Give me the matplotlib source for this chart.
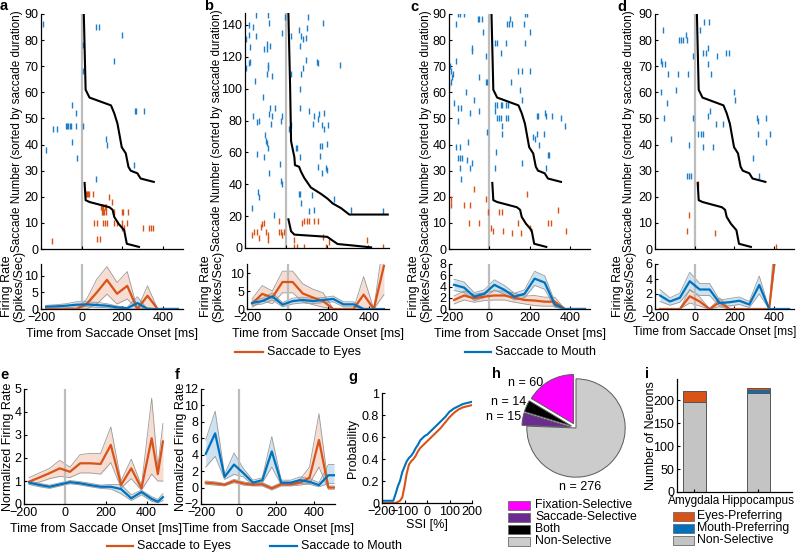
import numpy as np
import matplotlib
matplotlib.use('Agg')
import matplotlib.pyplot as plt
from matplotlib.lines import Line2D
from matplotlib.patches import Rectangle

plt.rcParams['font.family'] = ['Liberation Sans', 'DejaVu Sans']
plt.rcParams['font.size'] = 9
plt.rcParams['axes.linewidth'] = 0.9

W, H = 799, 552
fig = plt.figure(figsize=(W / 100, H / 100), dpi=100)

ORANGE = '#D95319'
BLUE = '#0072BD'
GRAY = '#BDBDBD'
BANDEDGE = '#9A9A9A'
FS = 9

# ---------------- raster data (time ms, saccade number) ----------------
a_mouth_spikes = [(-192, 86), (71, 85), (88, 85), (200, 82), (5, 78), (160, 72), (8, 68), (-45, 55),
                  (-26, 52), (263, 53), (268, 53), (307, 53), (-140, 46), (-122, 46), (-78, 47), (-73, 47),
                  (-68, 47), (-59, 47), (-54, 47), (-29, 47), (5, 47), (-45, 41), (122, 42), (127, 40),
                  (-175, 38), (-23, 35), (258, 32), (71, 27)]
a_eyes_spikes = [(15, 21), (20, 21), (25, 21), (30, 21), (35, 21), (58, 21), (137, 20), (151, 18), (98, 16),
                 (103, 16), (108, 16), (117, 16), (122, 16), (100, 14), (105, 14), (112, 14), (122, 14),
                 (161, 14), (200, 14), (205, 14), (229, 14), (63, 10), (78, 10), (107, 10), (117, 10),
                 (127, 10), (161, 10), (176, 10), (200, 10), (224, 10), (200, 8), (210, 8), (302, 8),
                 (332, 8), (341, 8), (351, 8), (78, 4), (93, 4), (-146, 3)]

b_mouth_spikes = [(-148, 146), (-88, 146), (-81, 141), (-182, 140), (-163, 139), (-179, 134), (-148, 133),
                  (-4, 145), (-20, 135), (24, 133), (104, 145), (101, 138), (177, 141), (63, 137), (72, 133),
                  (80, 131), (96, 132), (-196, 131), (-196, 113), (-175, 126), (-91, 128), (-95, 125),
                  (-78, 127), (-107, 125), (67, 127), (-175, 117), (-179, 116), (96, 118), (150, 117),
                  (153, 116), (262, 115), (-87, 115), (-87, 113), (-93, 109), (-71, 108), (24, 109),
                  (80, 113), (72, 109), (-153, 105), (67, 100), (-112, 95), (-159, 83), (-78, 88), (-56, 88),
                  (-83, 84), (-71, 83), (-20, 83), (-143, 79), (-131, 80), (-74, 78), (-104, 71), (-99, 67),
                  (-91, 66), (-90, 63), (-25, 80), (24, 77), (109, 86), (136, 83), (161, 84), (182, 85),
                  (156, 81), (172, 77), (205, 77), (132, 78), (185, 75), (67, 88), (13, 75), (-107, 57),
                  (-142, 59), (-82, 47), (-30, 53), (47, 63), (55, 63), (67, 57), (167, 64), (175, 64),
                  (199, 65), (166, 58), (156, 51), (193, 50), (201, 49), (174, 47), (-27, 42), (-22, 40),
                  (-135, 35), (-134, 32), (-168, 25), (-61, 21), (63, 34), (67, 34), (128, 33), (72, 28),
                  (109, 23), (136, 24), (234, 31), (315, 24), (470, 23)]
b_eyes_spikes = [(-165, 8), (-156, 10), (-140, 10), (-124, 13), (-115, 15), (-99, 10), (-87, 8), (-110, 16),
                 (-132, 6), (-87, 5), (-35, 17), (-24, 10), (-20, 8), (-8, 10), (-33, 10), (77, 16), (88, 17),
                 (101, 17), (112, 17), (134, 17), (153, 17), (36, 5), (177, 7), (209, 4), (391, 5),
                 (39, 0.8), (52, 0.8), (88, 0.8), (193, 0.8), (470, 0.8)]

c_mouth_spikes = [(-155, 90), (-146, 90), (-127, 90), (-57, 88), (-49, 88), (-37, 88), (-163, 86), (101, 88),
                  (179, 90), (187, 90), (89, 86), (98, 86), (114, 86), (174, 86), (203, 83), (-33, 83),
                  (-88, 76), (-84, 77), (30, 79), (36, 79), (82, 79), (179, 79), (57, 75), (-16, 74),
                  (-163, 72), (143, 68), (160, 68), (203, 68), (-49, 66), (106, 64), (-195, 70), (-190, 68),
                  (-185, 66), (-180, 67), (-188, 64), (-18, 64), (-10, 64), (-198, 63), (150, 61), (-114, 60),
                  (163, 57), (-176, 56), (-155, 54), (-138, 54), (-75, 57), (-53, 53), (-98, 52), (30, 55),
                  (36, 55), (57, 55), (62, 55), (82, 55), (95, 55), (30, 53), (36, 50), (46, 50), (57, 50),
                  (85, 50), (93, 50), (-155, 49), (62, 47), (-10, 45), (62, 44), (235, 51), (243, 51),
                  (282, 51), (312, 51), (358, 50), (275, 52), (374, 47), (235, 44), (272, 44), (219, 43),
                  (227, 42), (247, 40), (-107, 41), (-163, 39), (-143, 39), (-155, 35), (-146, 35),
                  (-133, 35), (-111, 34), (-85, 33), (-143, 31), (-98, 31), (-138, 27), (33, 37), (30, 31),
                  (160, 33), (290, 36), (297, 36), (280, 31)]
c_eyes_spikes = [(-190, 19), (-190, 17), (-76, 23), (-125, 17), (-96, 17), (-18, 19), (-7, 14), (46, 14),
                 (62, 14), (187, 21), (341, 15), (-102, 10), (-49, 10), (8, 8), (20, 7), (66, 7), (114, 6),
                 (155, 6), (143, 10), (203, 8), (290, 10), (306, 10), (382, 7)]

d_mouth_spikes = [(-158, 84), (49, 87), (70, 87), (25, 84), (-80, 80), (-69, 80), (-57, 80), (-44, 82),
                  (-37, 80), (-170, 72), (-166, 71), (-151, 71), (-11, 74), (41, 75), (57, 75), (65, 77),
                  (65, 71), (114, 74), (158, 75), (171, 75), (-135, 67), (-84, 67), (-32, 67), (81, 67),
                  (-93, 61), (-171, 60), (-138, 56), (198, 60), (203, 57), (76, 53), (-154, 50), (-8, 50),
                  (65, 51), (106, 48), (143, 48), (313, 50), (320, 49), (358, 50), (317, 44), (378, 44),
                  (358, 41), (17, 44), (33, 44), (41, 44), (44, 39), (93, 39), (-119, 42), (-27, 40),
                  (293, 35), (-37, 28), (-31, 28), (-21, 28), (325, 28)]
d_eyes_spikes = [(17, 25), (-27, 13), (-37, 7), (102, 6), (407, 0.8)]

# saccade-duration curves (duration ms, saccade number)
acd_dur_mouth_t = [11, 20, 39, 145, 161, 177, 198, 218, 231, 242, 275, 291, 356]
acd_dur_mouth_y = [90, 61, 58, 55, 52, 48, 39, 36.6, 31.5, 30, 29, 27, 25.7]
acd_dur_eyes_t = [15, 20, 39, 137, 153, 161, 182, 210, 223, 283]
acd_dur_eyes_y = [25.3, 18.7, 18, 16, 15, 12.3, 9.7, 7.2, 2, 0.8]
b_dur_mouth_t = [11, 19, 24, 40, 43, 63, 72, 88, 120, 169, 201, 226, 267, 307, 494]
b_dur_mouth_y = [147, 103, 67, 57, 52, 51, 48, 44, 38, 34, 31, 28, 25, 21, 21]
b_dur_eyes_t = [11, 24, 40, 169, 200, 250, 330, 413]
b_dur_eyes_y = [18, 10.5, 8.4, 7.3, 7, 2.5, 1.5, 0.4]

# ---------------- firing rates ----------------
fr_t = [-175, -125, -75, -25, 25, 75, 125, 175, 225, 275, 325, 375, 425, 475]
a_eyes = [0, 0, 0, 0, 1.5, 5.0, 8.8, 4.6, 7.0, 0, 4.0, 0, 0, 0]
a_eyes_lo = [0, 0, 0, 0, 0, 1.5, 4.5, 1.5, 3.0, 0, 0.5, 0, 0, 0]
a_eyes_hi = [0, 0, 0, 0, 3.0, 9.0, 12.8, 8.0, 11.3, 0, 7.0, 0, 0, 0]
a_mouth = [0.7, 0.8, 1.0, 1.3, 1.4, 1.2, 1.0, 0.5, 0.2, 1.8, 0, 0, 0, 0]
a_mouth_lo = [0.3, 0.3, 0.4, 0.6, 0.7, 0.5, 0.4, 0.1, 0, 0, 0, 0, 0, 0]
a_mouth_hi = [1.1, 1.3, 1.6, 2.2, 2.2, 2.0, 1.6, 0.9, 0.5, 3.7, 0, 0, 0, 0]

b_eyes = [1.5, 4.2, 3.2, 7.5, 7.5, 4.3, 3.2, 2.2, 0, 0, 0, 4.0, 0, 12]
b_eyes_lo = [0.5, 2.2, 1.5, 4.5, 4.5, 2.0, 1.2, 0.5, 0, 0, 0, 0, 0, 4.0]
b_eyes_hi = [2.8, 6.5, 5.0, 10.5, 10.5, 7.0, 5.5, 4.5, 0, 0, 0, 9.0, 0, 20]
b_mouth = [1.7, 2.2, 3.5, 1.2, 2.2, 2.5, 2.2, 2.5, 2.8, 1.3, 1.3, 0, 0, 0]
b_mouth_lo = [1.0, 1.4, 2.5, 0.6, 1.4, 1.7, 1.5, 1.8, 2.0, 0.6, 0.6, 0, 0, 0]
b_mouth_hi = [2.4, 3.0, 4.5, 1.8, 3.0, 3.3, 2.9, 3.2, 3.6, 2.0, 2.0, 0, 0, 0]

c_eyes = [1.6, 2.4, 1.9, 2.2, 2.4, 2.4, 2.0, 1.6, 1.5, 1.3, 1.3, 0, 0, 0]
c_eyes_lo = [0.9, 1.6, 1.2, 1.5, 1.6, 1.6, 1.2, 0.9, 0.6, 0.5, 0.5, 0, 0, 0]
c_eyes_hi = [2.3, 3.2, 2.6, 2.9, 3.2, 3.2, 2.8, 2.3, 2.4, 2.1, 2.1, 0, 0, 0]
c_mouth = [4.3, 3.8, 2.2, 2.7, 4.3, 3.4, 2.2, 2.7, 5.4, 4.7, 0.8, 0, 0, 0]
c_mouth_lo = [3.3, 2.9, 1.5, 2.0, 3.4, 2.6, 1.6, 2.0, 4.2, 3.5, 0.3, 0, 0, 0]
c_mouth_hi = [5.3, 4.8, 2.9, 3.4, 5.2, 4.2, 2.8, 3.4, 6.7, 5.9, 1.3, 0, 0, 0]

d_eyes = [0, 0, 0, 1.7, 1.0, 0, 0.9, 0, 0, 0, 0, 0, 12, 12]
d_eyes_lo = [0, 0, 0, 0.8, 0.4, 0, 0.3, 0, 0, 0, 0, 0, 10, 10]
d_eyes_hi = [0, 0, 0, 2.6, 1.6, 0, 1.5, 0, 0, 0, 0, 0, 18, 18]
d_mouth = [1.8, 1.0, 1.5, 3.7, 2.6, 2.6, 0.8, 0.9, 1.1, 0.6, 3.2, 0, 0, 0]
d_mouth_lo = [1.0, 0.5, 0.9, 2.5, 1.8, 1.8, 0.4, 0.4, 0.6, 0.2, 2.0, 0, 0, 0]
d_mouth_hi = [2.6, 1.5, 2.1, 4.9, 3.4, 3.4, 1.2, 1.4, 1.6, 1.0, 4.4, 0, 0, 0]

e_t = [-175, -125, -75, -25, 25, 75, 125, 175, 225, 275, 325, 375, 425, 455, 480]
e_eyes = [0.97, 1.15, 1.34, 1.55, 1.4, 1.77, 1.77, 1.74, 2.57, 0.83, 1.55, 0.68, 2.86, 1.3, 2.72]
e_eyes_lo = [0.85, 0.95, 1.1, 1.2, 1.15, 1.35, 1.35, 1.3, 1.8, 0.7, 1.1, 0.6, 1.3, 1.0, 1.0]
e_eyes_hi = [1.15, 1.35, 1.55, 1.9, 1.6, 2.15, 2.2, 2.2, 3.35, 1.0, 1.95, 0.8, 4.6, 1.6, 3.5]
e_mouth = [0.93, 0.83, 0.75, 0.85, 0.95, 0.9, 0.82, 0.75, 0.75, 0.65, 0.25, 0.52, 0.22, 0.1, 0.3]
e_mouth_lo = [0.85, 0.75, 0.68, 0.78, 0.88, 0.83, 0.75, 0.68, 0.65, 0.45, 0.15, 0.4, 0.12, 0.05, 0.15]
e_mouth_hi = [1.0, 0.9, 0.82, 0.92, 1.02, 0.97, 0.9, 0.82, 0.85, 0.85, 0.4, 0.6, 0.32, 0.2, 0.45]

f_t = [-175, -125, -75, -25, 25, 75, 125, 175, 225, 275, 325, 375, 425, 475, 505]
f_mouth = [4.1, 6.6, 1.3, 2.8, 1.75, 0.6, 0.9, 4.4, 0.6, 0.6, 0.9, 0.7, 0.3, 1.5, 1.5]
f_mouth_lo = [2.5, 3.8, 1.0, 1.6, 1.3, 0.3, 0.6, 2.5, 0.3, 0.3, 0.5, 0.4, 0.1, 0.5, 0.5]
f_mouth_hi = [5.8, 9.3, 1.6, 4.2, 2.3, 0.9, 1.2, 6.2, 0.9, 0.9, 1.3, 1.1, 0.6, 2.8, 2.8]
f_eyes = [0.6, 0.5, 0.35, 0.8, 0.5, 0.35, 0.4, -0.1, 0.4, 0.4, 0.6, 1.2, 5.8, 0.0, 0.0]
f_eyes_lo = [0.4, 0.3, 0.2, 0.6, 0.3, 0.2, 0.2, -0.3, 0.2, 0.2, 0.3, 0.5, 2.5, -0.2, -0.2]
f_eyes_hi = [0.8, 0.7, 0.5, 1.0, 0.7, 0.5, 0.6, 0.1, 0.6, 0.6, 1.0, 2.5, 9.0, 0.2, 0.2]

# ---------------- SSI CDF ----------------
g_ssi = [-200, -150, -140, -130, -120, -110, -100, -90, -80, -70, -60, -50, -40, -30, -20, -10, 0,
         20, 40, 60, 80, 100, 120, 140, 160, 180, 200]
g_mouth = [0.02, 0.02, 0.08, 0.15, 0.2, 0.28, 0.33, 0.38, 0.41, 0.43, 0.46, 0.5, 0.53, 0.57, 0.59, 0.61,
           0.62, 0.66, 0.7, 0.74, 0.78, 0.83, 0.86, 0.88, 0.9, 0.91, 0.92]
g_eyes = [0.0, 0.0, 0.0, 0.01, 0.02, 0.05, 0.15, 0.27, 0.35, 0.38, 0.4, 0.43, 0.47, 0.5, 0.52, 0.54,
          0.56, 0.6, 0.64, 0.68, 0.73, 0.78, 0.82, 0.85, 0.87, 0.88, 0.89]

# ---------------- pie ----------------
pie_categories = ['Fixation-Selective', 'Saccade-Selective', 'Both', 'Non-Selective']
pie_counts = [60, 15, 14, 276]
pie_colors = ['#FF00FF', '#6B2C91', '#000000', '#CCCCCC']
pie_order = [0, 2, 1, 3]

# ---------------- bars ----------------
regions = ['Amygdala', 'Hippocampus']
non_selective = [196, 216]
mouth_preferring = [1, 7]
eyes_preferring = [22, 4]


def add_ax(l, t, r, b):
    return fig.add_axes([l / W, 1 - b / H, (r - l) / W, (b - t) / H])


def style(ax):
    for s in ['top', 'right']:
        ax.spines[s].set_visible(False)
    ax.tick_params(direction='in', length=2.5, width=0.8, labelsize=FS, pad=2)


def ylab(ax, text, right_px, left_px, width_px, fs=FS, **kw):
    ax.set_ylabel(text, fontsize=fs, **kw)
    ax.yaxis.set_label_coords((right_px - left_px) / width_px, 0.5)


def raster(box, mouth, eyes, dmt, dmy, det, dey, ymax, yticks, lab_right):
    ax = add_ax(*box)
    style(ax)
    ax.axvline(0, color=GRAY, lw=1.6, zorder=1)
    mt, my = zip(*mouth)
    et, ey = zip(*eyes)
    ax.plot(mt, my, ls='none', marker='|', ms=4, mew=1.0, color='#1E7FC8', zorder=2)
    ax.plot(et, ey, ls='none', marker='|', ms=4, mew=1.0, color=ORANGE, zorder=2)
    ax.plot(dmt, dmy, color='k', lw=1.5, zorder=3)
    ax.plot(det, dey, color='k', lw=1.5, zorder=3)
    ax.set_xlim(-200, 500)
    ax.set_ylim(0, ymax)
    ax.set_xticks([-200, 0, 200, 400])
    ax.set_xticklabels([])
    ax.set_yticks(yticks)
    ylab(ax, 'Saccade Number (sorted by saccade duration)', lab_right, box[0], box[2] - box[0], fs=8.4)
    return ax


def band(ax, t, lo, hi, color):
    ax.fill_between(t, lo, hi, color=color, alpha=0.2, lw=0, zorder=1)
    ax.plot(t, lo, color=BANDEDGE, lw=0.6, zorder=1)
    ax.plot(t, hi, color=BANDEDGE, lw=0.6, zorder=1)


def firing(box, t, e, elo, ehi, m, mlo, mhi, ylim, yticks, xlim=(-200, 500)):
    ax = add_ax(*box)
    style(ax)
    band(ax, t, elo, ehi, ORANGE)
    band(ax, t, mlo, mhi, BLUE)
    ax.axvline(0, color=GRAY, lw=1.6, zorder=2)
    ax.plot(t, e, color=ORANGE, lw=1.6, zorder=3)
    ax.plot(t, m, color=BLUE, lw=1.6, zorder=4)
    ax.set_xlim(*xlim)
    ax.set_ylim(*ylim)
    ax.set_yticks(yticks)
    ax.set_xticks([-200, 0, 200, 400])
    ax.set_xlabel('Time from Saccade Onset [ms]', fontsize=FS, labelpad=3)
    return ax


# raster panels
raster((41, 14, 183, 249), a_mouth_spikes, a_eyes_spikes, acd_dur_mouth_t, acd_dur_mouth_y,
       acd_dur_eyes_t, acd_dur_eyes_y, 90, range(0, 91, 10), 23)
raster((245, 13, 389, 248), b_mouth_spikes, b_eyes_spikes, b_dur_mouth_t, b_dur_mouth_y,
       b_dur_eyes_t, b_dur_eyes_y, 147.5, range(0, 141, 20), 223)
raster((449, 14, 590, 249), c_mouth_spikes, c_eyes_spikes, acd_dur_mouth_t, acd_dur_mouth_y,
       acd_dur_eyes_t, acd_dur_eyes_y, 90, range(0, 91, 10), 432)
raster((655, 14, 794, 249), d_mouth_spikes, d_eyes_spikes, acd_dur_mouth_t, acd_dur_mouth_y,
       acd_dur_eyes_t, acd_dur_eyes_y, 90, range(0, 91, 10), 635)

# firing rate panels
fa = firing((41, 264, 183, 309), fr_t, a_eyes, a_eyes_lo, a_eyes_hi, a_mouth, a_mouth_lo, a_mouth_hi,
            (0, 13.6), [0, 5, 10])
fb = firing((247, 264, 389, 309), fr_t, b_eyes, b_eyes_lo, b_eyes_hi, b_mouth, b_mouth_lo, b_mouth_hi,
            (0, 12.5), [0, 5, 10])
fc = firing((449, 264, 590, 309), fr_t, c_eyes, c_eyes_lo, c_eyes_hi, c_mouth, c_mouth_lo, c_mouth_hi,
            (0, 8), [0, 2, 4, 6, 8])
fd = firing((655, 264, 794, 309), fr_t, d_eyes, d_eyes_lo, d_eyes_hi, d_mouth, d_mouth_lo, d_mouth_hi,
            (0, 6), [0, 2, 4, 6])
fd.xaxis.set_label_coords((715 - 655) / 139, -(326 - 309) / 45)
fd.xaxis.label.set_va('top')
fd.xaxis.label.set_fontsize(8.6)
for ax, right, left, wid in ((fa, 25, 41, 142), (fb, 224, 247, 142), (fc, 432, 449, 141), (fd, 636, 655, 139)):
    ylab(ax, 'Firing Rate\n(Spikes/Sec)', right, left, wid, linespacing=1.0)

# e
ae = firing((24, 389, 167, 504), e_t, e_eyes, e_eyes_lo, e_eyes_hi, e_mouth, e_mouth_lo, e_mouth_hi,
            (0, 5), [0, 1, 2, 3, 4, 5])
ylab(ae, 'Normalized Firing Rate', 14, 24, 143)
# f
af = firing((201, 389, 335, 504), f_t, f_eyes, f_eyes_lo, f_eyes_hi, f_mouth, f_mouth_lo, f_mouth_hi,
            (-2, 12), list(range(-2, 13, 2)), xlim=(-200, 510))
ylab(af, 'Normalized Firing Rate', 187, 201, 134)

# g
ag = add_ax(382, 393, 472, 503)
style(ag)
ag.plot(g_ssi, g_eyes, color=ORANGE, lw=1.5)
ag.plot(g_ssi, g_mouth, color=BLUE, lw=1.5)
ag.set_xlim(-200, 200)
ag.set_ylim(0, 1)
ag.set_xticks([-200, -100, 0, 100, 200])
ag.set_yticks([0, 0.2, 0.4, 0.6, 0.8, 1])
ag.set_yticklabels(['0', '0.2', '0.4', '0.6', '0.8', '1'])
ag.set_xlabel('SSI [%]', fontsize=FS, labelpad=1)
ylab(ag, 'Probability', 359, 382, 90)

# h pie
ah = add_ax(576 - 60, 428 - 60, 576 + 60, 428 + 60)
vals = [pie_counts[i] for i in pie_order]
cols = [pie_colors[i] for i in pie_order]
ah.pie(vals, colors=cols, startangle=90, counterclock=True, explode=[0.1, 0.1, 0.1, 0],
       wedgeprops=dict(edgecolor='#5A5A5A', linewidth=0.7))
ah.set_xlim(-1.22, 1.22)
ah.set_ylim(-1.22, 1.22)
ah.set_aspect('equal')
ah.axis('off')


def ftext(x, y, s, **kw):
    fig.text(x / W, 1 - y / H, s, **kw)


ftext(543, 383, 'n = %d' % pie_counts[0], ha='right', va='center', fontsize=FS)
ftext(526, 402, 'n = %d' % pie_counts[2], ha='right', va='center', fontsize=FS)
ftext(521, 417, 'n = %d' % pie_counts[1], ha='right', va='center', fontsize=FS)
ftext(580, 487, 'n = %d' % pie_counts[3], ha='center', va='center', fontsize=FS)

for k, (cat, col) in enumerate(zip(pie_categories, pie_colors)):
    yc = 505 + 12 * k
    fig.patches.append(Rectangle((508 / W, 1 - (yc + 4.5) / H), 22 / W, 9 / H, transform=fig.transFigure,
                                 fc=col, ec='#6A6A6A', lw=0.6))
    ftext(535, yc, cat, ha='left', va='center', fontsize=8.8)

# i bars
ai = add_ax(677, 379, 792, 492)
style(ai)
x = np.array([1, 2])
bw = 0.36
ai.bar(x, non_selective, bw, color='#C4C4C4', edgecolor='#555555', lw=0.7)
ai.bar(x, mouth_preferring, bw, bottom=non_selective, color=BLUE, edgecolor='#555555', lw=0.7)
bot2 = np.array(non_selective) + np.array(mouth_preferring)
ai.bar(x, eyes_preferring, bw, bottom=bot2, color=ORANGE, edgecolor='#555555', lw=0.7)
ai.set_xlim(0.73, 2.53)
ai.set_ylim(0, 246)
ai.set_xticks(x)
ai.set_xticklabels(regions, fontsize=8.5)
ai.set_yticks([0, 50, 100, 150, 200])
ylab(ai, 'Number of Neurons', 657, 677, 115)

bar_leg = [('Eyes-Preferring', ORANGE), ('Mouth-Preferring', BLUE), ('Non-Selective', '#C4C4C4')]
for k, (lab, col) in enumerate(bar_leg):
    yc = 516 + 12 * k
    fig.patches.append(Rectangle((673 / W, 1 - (yc + 4.5) / H), 21 / W, 9 / H, transform=fig.transFigure,
                                 fc=col, ec='#6A6A6A', lw=0.6))
    ftext(697, yc, lab, ha='left', va='center', fontsize=8.8)


def line_leg(x0, x1, y, label, color):
    fig.add_artist(Line2D([x0 / W, x1 / W], [1 - y / H, 1 - y / H], color=color, lw=1.6,
                          transform=fig.transFigure))
    ftext(x1 + 4, y, label, ha='left', va='center', fontsize=FS)


line_leg(235, 263, 352, 'Saccade to Eyes', ORANGE)
line_leg(465, 491, 352, 'Saccade to Mouth', BLUE)
line_leg(107, 133, 546, 'Saccade to Eyes', ORANGE)
line_leg(270, 297, 546, 'Saccade to Mouth', BLUE)

# panel letters
for lab, (px, py) in {'a': (0, 6), 'b': (204, 6), 'c': (410, 7), 'd': (617, 7), 'e': (0, 375),
                      'f': (175, 375), 'g': (348, 377), 'h': (492, 374), 'i': (645, 374)}.items():
    ftext(px, py, lab, ha='left', va='center', fontsize=10.5, fontweight='bold')

fig.savefig('out.png', dpi=100)
